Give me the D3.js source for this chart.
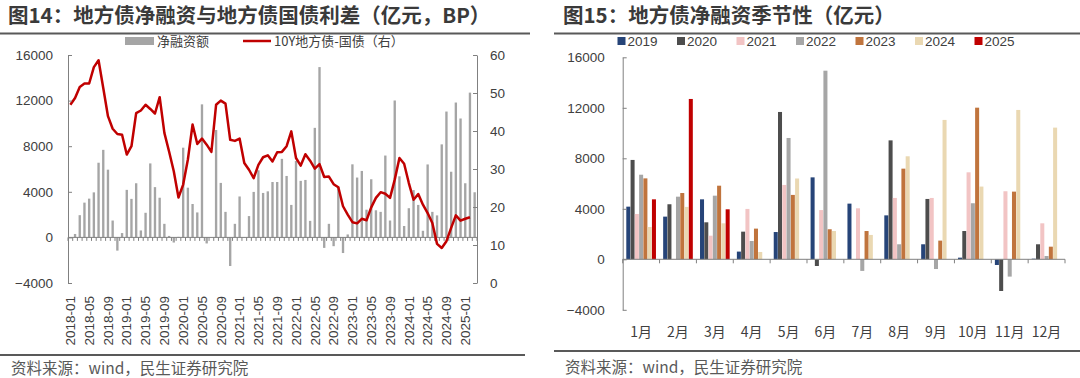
<!DOCTYPE html>
<html>
<head>
<meta charset="utf-8">
<script src="https://cdn.jsdelivr.net/npm/d3@7"></script>
<style>
  body { margin: 0; background: #fff; }
  text { font-family: 'Liberation Sans', 'Noto Sans CJK SC', sans-serif; fill: #404040; }
  .cjk { font-family: 'Noto Sans CJK SC', sans-serif; }
  .title { font-family: 'Noto Sans CJK SC', sans-serif; font-weight: bold; font-size: 20.5px; fill: #3a3a3a; }
  .axis text { font-size: 13.5px; fill: #404040; }
  .axis path, .axis line { stroke: #808080; }
</style>
</head>
<body>
<script>
// 净融资额 2018 (亿元), 2019 起与右图季节性一致
const net2018 = [0, 300, 1950, 3050, 3400, 3950, 6550, 7680, 5940, 1480, -1160, 380]
const net2019 = [4170, 3380, 4750, 610, 2160, 6490, 4410, 3480, 1190, 130, -450, 50]
const net2020 = [7870, 4360, 2930, 2190, 11670, -530, 0, 9420, 4780, 2240, -2510, 1190]
const net2021 = [3590, 30, 1870, 3990, 5890, 3900, 4040, 4860, 4860, 6890, 5390, 2850]
const net2022 = [6700, 4960, 5040, 1450, 9610, 14940, -920, 1190, -770, 4440, -1370, 260]
const net2023 = [6410, 5250, 5830, 2430, 5100, 2380, 2240, 7180, 1480, 12010, 5360, 1000]
const net2024 = [2560, 4150, 2850, 580, 6400, 2240, 1930, 8160, 11040, 5760, 11830, 10430]
const net2025 = [4750, 12700, 3960]

// 10Y地方债-国债利差 (BP), 2018-01 .. 2025-02
const spread = [
  46.9, 48.7, 51.6, 52.5, 52.5, 56.8, 58.6, 51.3, 43.9, 40.6, 39.2, 39.0,
  33.8, 36.0, 44.7, 45.4, 46.9, 45.8, 44.6, 48.9, 39.5, 34.6, 29.4, 22.5,
  25.9, 32.5, 41.7, 36.6, 38.0, 36.4, 34.5, 46.9, 48.0, 47.2, 37.7, 37.4,
  38.0, 31.6, 29.8, 27.6, 31.1, 33.1, 33.6, 32.0, 34.4, 34.5, 36.0, 39.9,
  32.9, 30.9, 33.9, 32.2, 30.1, 31.3, 27.9, 28.0, 26.0, 25.2, 20.2, 18.0,
  16.0, 15.7, 16.9, 16.5, 19.9, 22.4, 23.9, 23.5, 22.4, 27.2, 32.9, 31.4,
  26.3, 21.9, 23.4, 20.6, 18.4, 15.8, 10.3, 9.2, 11.0, 14.5, 17.8, 16.4,
  16.9, 17.3
]

const years = ['2019', '2020', '2021', '2022', '2023', '2024', '2025']
const yearColors = ['#264478', '#4d4d4d', '#f2c4c4', '#a6a6a6', '#c0743d', '#ead8b2', '#c00000']
const monthNames = ['1月', '2月', '3月', '4月', '5月', '6月', '7月', '8月', '9月', '10月', '11月', '12月']
const leftTicks = [-4000, 0, 4000, 8000, 12000, 16000]
const rightTicks = [0, 10, 20, 30, 40, 50, 60]

const byYear = [net2019, net2020, net2021, net2022, net2023, net2024, net2025]
const netAll = net2018.concat(...byYear)
const monthLabels = netAll.map((d, i) => (2018 + Math.floor(i / 12)) + '-' + String(i % 12 + 1).padStart(2, '0'))

const svg = d3.select('body').append('svg')
    .attr('width', 1080)
    .attr('height', 378)

// ---------- left panel ----------
const left = svg.append('g')

left.append('text').attr('class', 'title')
    .attr('x', 8).attr('y', 23)
    .text('图14：地方债净融资与地方债国债利差（亿元，BP）')
left.append('rect').attr('x', 0).attr('y', 32.5).attr('width', 530).attr('height', 2).attr('fill', '#595959')

const x = d3.scaleBand().domain(monthLabels).range([68, 477]).paddingInner(0.5).paddingOuter(0.25)
const yL = d3.scaleLinear().domain([-4000, 16000]).range([283, 55])
const yR = d3.scaleLinear().domain([0, 60]).range([283, 55])
const step = x.step()

left.append('g')
  .selectAll('rect')
  .data(netAll)
  .enter().append('rect')
    .attr('x', (d, i) => x(monthLabels[i]))
    .attr('width', x.bandwidth())
    .attr('y', d => yL(Math.max(0, d)))
    .attr('height', d => Math.abs(yL(d) - yL(0)))
    .attr('fill', '#a5a5a5')

// zero line + category ticks
left.append('line')
    .attr('x1', 68).attr('x2', 477)
    .attr('y1', yL(0)).attr('y2', yL(0))
    .attr('stroke', '#808080')
left.append('g')
  .selectAll('line')
  .data(d3.range(netAll.length + 1))
  .enter().append('line')
    .attr('x1', i => 68 + i * step).attr('x2', i => 68 + i * step)
    .attr('y1', yL(0)).attr('y2', yL(0) + 3.5)
    .attr('stroke', '#808080')

left.append('path')
    .datum(spread)
    .attr('fill', 'none')
    .attr('stroke', '#c00000')
    .attr('stroke-width', 2.5)
    .attr('stroke-linejoin', 'round')
    .attr('d', d3.line()
      .x((d, i) => x(monthLabels[i]) + x.bandwidth() / 2)
      .y(d => yR(d)))

left.append('g')
    .attr('class', 'axis')
    .attr('transform', 'translate(68,0)')
    .call(d3.axisLeft(yL).tickValues(leftTicks).tickFormat(d3.format('d')).tickSizeInner(-4).tickSizeOuter(0).tickPadding(15))

left.append('g')
    .attr('class', 'axis')
    .attr('transform', 'translate(477,0)')
    .call(d3.axisRight(yR).tickValues(rightTicks).tickSizeInner(-4).tickSizeOuter(0).tickPadding(13))

left.append('g')
  .selectAll('text')
  .data(monthLabels.filter((d, i) => i % 4 === 0))
  .enter().append('text')
    .attr('transform', d => 'translate(' + (x(d) + x.bandwidth() / 2) + ',296) rotate(-90)')
    .attr('text-anchor', 'end')
    .attr('dy', '0.35em')
    .style('font-size', '13.5px')
    .text(d => d)

// legend
left.append('rect').attr('x', 125).attr('y', 37).attr('width', 29).attr('height', 8).attr('fill', '#a5a5a5')
left.append('text').attr('class', 'cjk').attr('x', 157).attr('y', 41).attr('dy', '0.35em')
    .style('font-size', '13px').text('净融资额')
left.append('line').attr('x1', 243).attr('x2', 271).attr('y1', 41).attr('y2', 41)
    .attr('stroke', '#c00000').attr('stroke-width', 2.5)
left.append('text').attr('class', 'cjk').attr('x', 274).attr('y', 41).attr('dy', '0.35em')
    .style('font-size', '13px').text('10Y地方债-国债（右）')

left.append('rect').attr('x', 0).attr('y', 354).attr('width', 525).attr('height', 2).attr('fill', '#595959')
left.append('text').attr('class', 'cjk').attr('x', 11).attr('y', 369).attr('dy', '0.35em')
    .style('font-size', '15.5px').style('fill', '#595959')
    .text('资料来源：wind，民生证券研究院')

// ---------- right panel ----------
const right = svg.append('g')

right.append('text').attr('class', 'title')
    .attr('x', 563).attr('y', 23)
    .text('图15：地方债净融资季节性（亿元）')
right.append('rect').attr('x', 554).attr('y', 32.5).attr('width', 526).attr('height', 2).attr('fill', '#595959')

const x0 = d3.scaleBand().domain(monthNames).range([622.7, 1065])
const x1 = d3.scaleBand().domain(years).range([3.6, x0.step() - 3.6]).paddingInner(0.06)
const y = d3.scaleLinear().domain([-4000, 16000]).range([309.8, 57.3])

const groups = right.append('g')
  .selectAll('g')
  .data(monthNames)
  .enter().append('g')
    .attr('transform', d => 'translate(' + x0(d) + ',0)')

groups.selectAll('rect')
  .data((m, mi) => years.map((yr, yi) => ({ yr: yr, c: yearColors[yi], v: byYear[yi][mi] }))
    .filter(d => d.v !== undefined))
  .enter().append('rect')
    .attr('x', d => x1(d.yr))
    .attr('width', x1.bandwidth())
    .attr('y', d => y(Math.max(0, d.v)))
    .attr('height', d => Math.abs(y(d.v) - y(0)))
    .attr('fill', d => d.c)

right.append('line')
    .attr('x1', 622.7).attr('x2', 1065)
    .attr('y1', y(0)).attr('y2', y(0))
    .attr('stroke', '#808080')
right.append('g')
  .selectAll('line')
  .data(d3.range(monthNames.length + 1))
  .enter().append('line')
    .attr('x1', i => 622.7 + i * x0.step()).attr('x2', i => 622.7 + i * x0.step())
    .attr('y1', y(0)).attr('y2', y(0) + 4)
    .attr('stroke', '#808080')

right.append('g')
    .attr('class', 'axis')
    .attr('transform', 'translate(622.7,0)')
    .call(d3.axisLeft(y).tickValues(leftTicks).tickFormat(d3.format('d')).tickSizeInner(-4).tickSizeOuter(0).tickPadding(18))

right.append('g')
  .selectAll('text')
  .data(monthNames)
  .enter().append('text')
    .attr('class', 'cjk')
    .attr('x', d => x0(d) + x0.bandwidth() / 2)
    .attr('y', 332)
    .attr('dy', '0.35em')
    .attr('text-anchor', 'middle')
    .style('font-size', '14px')
    .text(d => d)

const legend = right.append('g')
  .selectAll('g')
  .data(years)
  .enter().append('g')
    .attr('transform', (d, i) => 'translate(' + (617.5 + i * 59.5) + ',41)')
legend.append('rect').attr('x', 0).attr('y', -4).attr('width', 8).attr('height', 8)
    .attr('fill', (d, i) => yearColors[i])
legend.append('text').attr('x', 10).attr('dy', '0.35em')
    .style('font-size', '13.5px').text(d => d)

right.append('rect').attr('x', 554).attr('y', 350).attr('width', 526).attr('height', 2).attr('fill', '#595959')
right.append('text').attr('class', 'cjk').attr('x', 565).attr('y', 368).attr('dy', '0.35em')
    .style('font-size', '15.5px').style('fill', '#595959')
    .text('资料来源：wind，民生证券研究院')
</script>
</body>
</html>
